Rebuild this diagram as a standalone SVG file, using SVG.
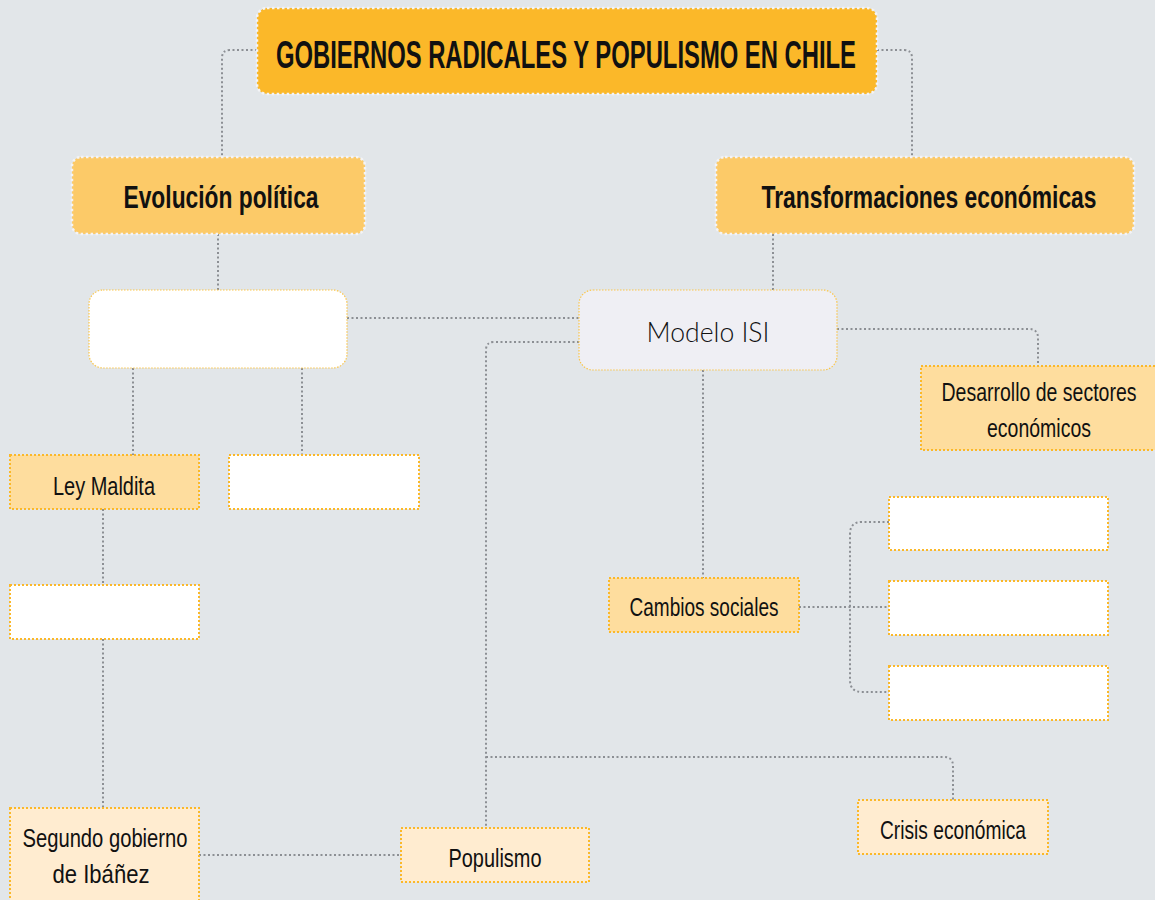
<svg xmlns="http://www.w3.org/2000/svg" width="1155" height="900" viewBox="0 0 1155 900">
<style>
.bg{fill:#e2e6e9}
.con{fill:none;stroke:#8c8f94;stroke-width:2;stroke-dasharray:2 2.5}
.hdr{stroke:#f4f4f6;stroke-width:2.5;stroke-dasharray:2.5 2.5}
.box{stroke:#fbb829;stroke-width:2;stroke-dasharray:2 2}
.thin{stroke:#fbc64a;stroke-width:1.2;stroke-dasharray:1.5 1.5}
.c1{fill:#fbb829}
.c2{fill:#fcca68}
.c3{fill:#fedd9e}
.c4{fill:#ffecd0}
.w{fill:#ffffff}
.m{fill:#efeff4}
text{font-family:"Liberation Sans",Arial,sans-serif;fill:#111;text-anchor:middle}
.b{font-weight:bold}
.t{font-size:25px}
</style>
<rect class="bg" x="0" y="0" width="1155" height="900"/>
<g id="connectors">
<path class="con" d="M257 50 H230 Q222 50 222 58 V157"/>
<path class="con" d="M877 50 H904 Q912 50 912 58 V157"/>
<path class="con" d="M218 234 V290"/>
<path class="con" d="M773 234 V290"/>
<path class="con" d="M347 318 H579"/>
<path class="con" d="M579 342 H494 Q486 342 486 350 V828"/>
<path class="con" d="M486 757 H944 Q953 757 953 766 V800"/>
<path class="con" d="M837 329 H1029 Q1038 329 1038 338 V366"/>
<path class="con" d="M703 370 V578"/>
<path class="con" d="M133 368 V455"/>
<path class="con" d="M302 368 V455"/>
<path class="con" d="M103 509 V585"/>
<path class="con" d="M103 639 V808"/>
<path class="con" d="M199 855 H401"/>
<path class="con" d="M799 607 H889"/>
<path class="con" d="M889 522 H862 Q850 522 850 534 V680 Q850 692 862 692 H889"/>
</g>
<g id="title">
<rect class="c1 hdr" x="257" y="8" width="620" height="86" rx="10"/>
<text class="b" x="566" y="68" font-size="38" textLength="580" lengthAdjust="spacingAndGlyphs">GOBIERNOS RADICALES Y POPULISMO EN CHILE</text>
</g>
<g id="evolucion">
<rect class="c2 hdr" x="72" y="157" width="293" height="77" rx="9"/>
<text class="b" x="221" y="208" font-size="32" textLength="195" lengthAdjust="spacingAndGlyphs">Evolución política</text>
</g>
<g id="transformaciones">
<rect class="c2 hdr" x="716" y="157" width="418" height="77" rx="9"/>
<text class="b" x="929" y="208" font-size="32" textLength="335" lengthAdjust="spacingAndGlyphs">Transformaciones económicas</text>
</g>
<g id="blank-political">
<rect class="w thin" x="89" y="290" width="258" height="78" rx="14"/>
</g>
<g id="modelo-isi">
<rect class="m thin" x="579" y="290" width="258" height="80" rx="14"/>
<text x="708" y="342" font-size="27" font-weight="300" style="font-family:Lato,'Open Sans',sans-serif" textLength="123" lengthAdjust="spacingAndGlyphs">Modelo ISI</text>
</g>
<g id="desarrollo">
<rect class="c3 box" x="921" y="366" width="240" height="84"/>
<text class="t" x="1039" y="401" textLength="195" lengthAdjust="spacingAndGlyphs">Desarrollo de sectores</text>
<text class="t" x="1039" y="437" textLength="104" lengthAdjust="spacingAndGlyphs">económicos</text>
</g>
<g id="ley-maldita">
<rect class="c3 box" x="10" y="455" width="189" height="54"/>
<text class="t" x="104" y="495" textLength="102" lengthAdjust="spacingAndGlyphs">Ley Maldita</text>
</g>
<g id="blank-2">
<rect class="w box" x="229" y="455" width="190" height="54"/>
</g>
<g id="blank-3">
<rect class="w box" x="10" y="585" width="189" height="54"/>
</g>
<g id="segundo-gobierno">
<rect class="c4 box" x="10" y="808" width="189" height="100"/>
<text class="t" x="105" y="847" textLength="165" lengthAdjust="spacingAndGlyphs">Segundo gobierno</text>
<text class="t" x="101" y="883" textLength="97" lengthAdjust="spacingAndGlyphs">de Ibáñez</text>
</g>
<g id="populismo">
<rect class="c4 box" x="401" y="828" width="188" height="54"/>
<text class="t" x="495" y="867" textLength="93" lengthAdjust="spacingAndGlyphs">Populismo</text>
</g>
<g id="cambios-sociales">
<rect class="c3 box" x="609" y="578" width="190" height="54"/>
<text class="t" x="704" y="616" textLength="149" lengthAdjust="spacingAndGlyphs">Cambios sociales</text>
</g>
<g id="blank-social-1">
<rect class="w box" x="889" y="497" width="219" height="53"/>
</g>
<g id="blank-social-2">
<rect class="w box" x="889" y="581" width="219" height="54"/>
</g>
<g id="blank-social-3">
<rect class="w box" x="889" y="666" width="219" height="54"/>
</g>
<g id="crisis">
<rect class="c4 box" x="858" y="800" width="190" height="54"/>
<text class="t" x="953" y="839" textLength="146" lengthAdjust="spacingAndGlyphs">Crisis económica</text>
</g>
</svg>
